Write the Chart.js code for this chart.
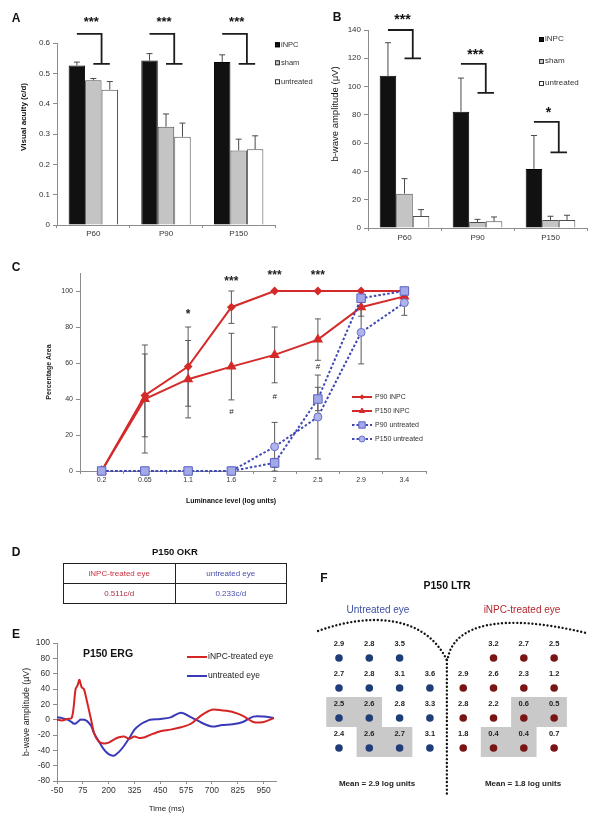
<!DOCTYPE html>
<html>
<head>
<meta charset="utf-8">
<title>iNPC figure</title>
<script src="https://cdn.jsdelivr.net/npm/chart.js@4.4.1/dist/chart.umd.min.js"></script>
<style>
html,body{margin:0;padding:0;background:#fff;}
body{position:relative;width:601px;height:826px;overflow:hidden;font-family:"Liberation Sans",Arial,Helvetica,sans-serif;color:#111;}
canvas{position:absolute;}
.t{position:absolute;white-space:nowrap;transform:translate(-50%,-50%);line-height:1;}
.r{transform:translate(-50%,-50%) rotate(-90deg);}
.pl{font-weight:bold;font-size:12px;color:#111;}
.leg{position:absolute;white-space:nowrap;line-height:1;transform:translateY(-50%);display:flex;align-items:center;color:#333;}
.sw{display:inline-block;box-sizing:border-box;margin-right:1px;}
table.okr{position:absolute;left:63px;top:563px;width:224px;height:39px;border-collapse:collapse;font-size:8px;table-layout:fixed;}
table.okr td{border:1.4px solid #222;text-align:center;padding:0;height:19px;}
</style>
</head>
<body>
<canvas id="cA" width="320" height="255" style="left:0;top:0"></canvas>
<canvas id="cB" width="301" height="255" style="left:300px;top:0"></canvas>
<canvas id="cC" width="440" height="250" style="left:0;top:262px"></canvas>
<canvas id="cE" width="300" height="198" style="left:0;top:628px"></canvas>
<canvas id="cF" width="301" height="266" style="left:300px;top:560px"></canvas>

<div class="t pl" style="left:16px;top:18px">A</div>
<div class="t pl" style="left:337px;top:17px">B</div>
<div class="t pl" style="left:16px;top:267px">C</div>
<div class="t pl" style="left:16px;top:552px">D</div>
<div class="t pl" style="left:16px;top:634px">E</div>
<div class="t pl" style="left:324px;top:578px">F</div>

<div class="t r" style="left:24px;top:117px;font-size:8px;font-weight:bold">Visual acuity (c/d)</div>
<div class="t r" style="left:335px;top:114px;font-size:9.5px">b-wave amplitude (μV)</div>
<div class="t" style="left:231px;top:500px;font-size:7px;font-weight:bold">Luminance level (log units)</div>
<div class="t" style="left:175px;top:552px;font-size:9.5px;font-weight:bold">P150 OKR</div>
<div class="t" style="left:108px;top:653px;font-size:10.5px;font-weight:bold">P150 ERG</div>
<table class="okr" id="okr"></table>

<div class="t" style="left:447px;top:585px;font-size:10.5px;font-weight:bold">P150 LTR</div>
<div class="t" style="left:378px;top:610px;font-size:10px;color:#3c50a4">Untreated eye</div>
<div class="t" style="left:522px;top:610px;font-size:10px;color:#b0282d">iNPC-treated eye</div>
<div class="t" style="left:377px;top:784px;font-size:8px;font-weight:bold;color:#222">Mean = 2.9 log units</div>
<div class="t" style="left:523px;top:784px;font-size:8px;font-weight:bold;color:#222">Mean = 1.8 log units</div>

<script>
// ===================== DATA =====================
// Panel A – visual acuity (c/d)
const timepoints = ['P60', 'P90', 'P150'];
const groups = ['iNPC', 'sham', 'untreated'];
const acuityINPC = [0.526, 0.542, 0.537];
const acuitySham = [0.477, 0.324, 0.246];
const acuityUntreated = [0.446, 0.291, 0.250];
const acuityErrINPC = [0.011, 0.023, 0.024];
const acuityErrSham = [0.006, 0.042, 0.037];
const acuityErrUntreated = [0.027, 0.045, 0.044];
const acuityTicks = [0, 0.1, 0.2, 0.3, 0.4, 0.5, 0.6];
const acuityTickLabels = ['0', '0.1', '0.2', '0.3', '0.4', '0.5', '0.6'];
const acuityStars = ['***', '***', '***'];
const acuityBracketTop = [0.63, 0.63, 0.63];
const acuityBracketBottom = [0.531, 0.531, 0.531];
const acuityStarY = [0.68, 0.68, 0.68];

// Panel B – b-wave amplitude (µV)
const ampINPC = [107.6, 82.2, 41.8];
const ampSham = [24.3, 4.2, 5.7];
const ampUntreated = [8.5, 4.7, 5.7];
const ampErrINPC = [23.4, 23.8, 23.6];
const ampErrSham = [10.6, 1.9, 2.6];
const ampErrUntreated = [4.5, 3.1, 3.3];
const ampTicks = [0, 20, 40, 60, 80, 100, 120, 140];
const ampStars = ['***', '***', '*'];
const ampBracketTop = [140, 116, 75];
const ampBracketBottom = [120, 95.5, 53.5];
const ampStarY = [150, 125.5, 84];

// Panel C – percentage area vs luminance
const luminance = ['0.2', '0.65', '1.1', '1.6', '2', '2.5', '2.9', '3.4'];
const p90INPC = [0, 42, 58, 91, 100, 100, 100, 100];
const p90INPCErr = [0, 23, 22, 9, 0, 0, 0, 0];
const p150INPC = [0, 40, 51, 58, 64.5, 73, 91, 97];
const p150INPCErr = [0, 30, 21.5, 18.5, 15.5, 11.5, 5, 0];
const p90Untreated = [0, 0, 0, 0, 4.5, 40, 96, 100];
const p90UntreatedErr = [0, 0, 0, 0, 2.5, 6.5, 2, 0];
const p150Untreated = [0, 0, 0, 0, 13.5, 30, 77, 93.5];
const p150UntreatedErr = [0, 0, 0, 0, 13.5, 23.3, 17.5, 7];
const lumTicks = [0, 20, 40, 60, 80, 100];
const lumStars = ['', '', '*', '***', '***', '***', '', ''];
const lumStarY = [0, 0, 89, 107, 110.5, 110.5, 0, 0];
const lumHash = ['', '', '', '#', '#', '#', '', ''];
const lumHashY = [0, 0, 0, 33, 41.7, 58.3, 0, 0];

// Panel D – OKR table
const okrGroups = ['iNPC-treated eye', 'untreated eye'];
const okrValues = ['0.511c/d', '0.233c/d'];

// Panel E – ERG traces
const ergTime = [-50, -25, 0, 20, 30, 40, 50, 58, 63, 70, 80, 90, 100, 115, 130, 150, 175, 200, 225, 250,
  275, 300, 325, 350, 375, 400, 450, 500, 550, 600, 650, 700, 750, 800, 850, 900, 950, 1000];
const ergTreated = [0, -1, 1, 2, 15, 40, 45, 52, 48, 42, 40, 30, 18, 0, -18, -28, -31, -30, -26, -23,
  -22, -25, -22, -24, -23, -20, -15, -13, -10, -5, 6, 13, 12, 10, 5, -3, -3, 2];
const ergUntreated = [3, 2, 0, -3, -5, -5, -3, -1, 0, 0, 0, -1, -3, -8, -18, -27, -38, -45, -47, -42,
  -34, -24, -13, -7, -3, 0, 1, 3, 9, 3, -4, -9, -7, -6, -3, 4, 4, 2];
const ergXTicks = [-50, 75, 200, 325, 450, 575, 700, 825, 950];
const ergYTicks = [-80, -60, -40, -20, 0, 20, 40, 60, 80, 100];
const ergSeries = ['iNPC-treated eye', 'untreated eye'];

// Panel F – LTR thresholds (log units), rows x columns
const ltrUntreated = [[2.9, 2.8, 3.5, null], [2.7, 2.8, 3.1, 3.6], [2.5, 2.6, 2.8, 3.3], [2.4, 2.6, 2.7, 3.1]];
const ltrTreated = [[null, 3.2, 2.7, 2.5], [2.9, 2.6, 2.3, 1.2], [2.8, 2.2, 0.6, 0.5], [1.8, 0.4, 0.4, 0.7]];
const ltrShadeUntreated = [[0, 0, 0, 0], [0, 0, 0, 0], [1, 1, 0, 0], [0, 1, 1, 0]];
const ltrShadeTreated = [[0, 0, 0, 0], [0, 0, 0, 0], [0, 0, 1, 1], [0, 1, 1, 0]];

// ===================== STYLE =====================
const FONT = '"Liberation Sans", Arial, sans-serif';
Chart.defaults.font.family = FONT;
Chart.defaults.color = '#333';
Chart.defaults.animation = false;
const AX = '#8c8c8c';
const barFill = ['#111111', '#c4c4c4', '#ffffff'];
const barBorder = ['#000000', '#4d4d4d', '#4d4d4d'];

function yScale(o) {
  return {
    type: 'linear', min: o.min, max: o.max,
    afterBuildTicks: s => { s.ticks = o.ticks.map(v => ({ value: v })); },
    afterFit: s => { s.width = o.width; },
    ticks: { font: { size: o.size }, color: '#333', padding: 3, autoSkip: false, callback: o.fmt },
    grid: { drawOnChartArea: false, drawTicks: true, tickLength: 4, color: AX },
    border: { display: true, color: AX },
    title: o.title || { display: false }
  };
}
function xCat(o) {
  return {
    type: 'category', offset: true,
    afterFit: s => { s.height = o.height; },
    ticks: { font: { size: o.size }, color: '#333', padding: o.pad, autoSkip: false, maxRotation: 0 },
    grid: { offset: true, drawOnChartArea: false, drawTicks: true, tickLength: 3, color: AX },
    border: { display: true, color: AX },
    title: o.title || { display: false }
  };
}

function barAnnotations(errs, tops, bottoms, starYs, stars, starSize) {
  return {
    id: 'barAnn',
    afterDatasetsDraw(chart) {
      const ctx = chart.ctx, ys = chart.scales.y;
      ctx.save();
      ctx.strokeStyle = '#4a4a4a'; ctx.lineWidth = 1;
      chart.data.datasets.forEach((ds, i) => {
        chart.getDatasetMeta(i).data.forEach((bar, j) => {
          const yTop = ys.getPixelForValue(ds.data[j] + errs[i][j]);
          ctx.beginPath();
          ctx.moveTo(bar.x, bar.y); ctx.lineTo(bar.x, yTop);
          ctx.moveTo(bar.x - 3, yTop); ctx.lineTo(bar.x + 3, yTop);
          ctx.stroke();
        });
      });
      ctx.restore();
    },
    afterDraw(chart) {
      const ctx = chart.ctx, xs = chart.scales.x, ys = chart.scales.y;
      const w = chart.getDatasetMeta(0).data[0].width;
      ctx.save();
      ctx.strokeStyle = '#1c1c1c'; ctx.lineWidth = 1.8; ctx.fillStyle = '#111';
      ctx.font = 'bold ' + starSize + 'px ' + FONT; ctx.textAlign = 'center'; ctx.textBaseline = 'alphabetic';
      stars.forEach((s, i) => {
        const cx = xs.getPixelForValue(i);
        const yt = ys.getPixelForValue(tops[i]), yb = ys.getPixelForValue(bottoms[i]);
        ctx.beginPath();
        ctx.moveTo(cx - w, yt); ctx.lineTo(cx + w / 2, yt); ctx.lineTo(cx + w / 2, yb);
        ctx.moveTo(cx, yb); ctx.lineTo(cx + w, yb);
        ctx.stroke();
        ctx.fillText(s, cx - 2, ys.getPixelForValue(starYs[i]) + starSize * 0.575);
      });
      ctx.restore();
    }
  };
}

function barDatasets(vals) {
  return vals.map((v, i) => ({
    label: groups[i], data: v, backgroundColor: barFill[i], borderColor: barBorder[i], borderWidth: 1
  }));
}

function htmlLegend(x, ys, size, sq) {
  groups.forEach((g, i) => {
    const d = document.createElement('div');
    d.className = 'leg';
    d.style.left = x + 'px'; d.style.top = ys[i] + 'px'; d.style.fontSize = size + 'px';
    d.innerHTML = '<span class="sw" style="width:' + sq + 'px;height:' + sq + 'px;background:' + barFill[i] +
      ';border:1px solid ' + (i === 0 ? '#000' : '#333') + '"></span>' + g;
    document.body.appendChild(d);
  });
}

// ===================== PANEL A =====================
new Chart(document.getElementById('cA'), {
  type: 'bar',
  data: { labels: timepoints, datasets: barDatasets([acuityINPC, acuitySham, acuityUntreated]) },
  options: {
    responsive: false, animation: false,
    layout: { padding: { top: 43, right: 45, left: 0, bottom: 0 } },
    plugins: { legend: { display: false }, tooltip: { enabled: false } },
    datasets: { bar: { categoryPercentage: 0.68, barPercentage: 1 } },
    scales: {
      x: xCat({ height: 30, size: 8, pad: 1 }),
      y: yScale({ min: 0, max: 0.6, ticks: acuityTicks, width: 57, size: 8, fmt: (v, i) => acuityTickLabels[i] })
    }
  },
  plugins: [barAnnotations([acuityErrINPC, acuityErrSham, acuityErrUntreated],
    acuityBracketTop, acuityBracketBottom, acuityStarY, acuityStars, 13)]
});
htmlLegend(275, [45, 63, 82], 7.5, 5);

// ===================== PANEL B =====================
new Chart(document.getElementById('cB'), {
  type: 'bar',
  data: { labels: timepoints, datasets: barDatasets([ampINPC, ampSham, ampUntreated]) },
  options: {
    responsive: false, animation: false,
    layout: { padding: { top: 30, right: 14, left: 0, bottom: 0 } },
    plugins: { legend: { display: false }, tooltip: { enabled: false } },
    datasets: { bar: { categoryPercentage: 0.68, barPercentage: 1 } },
    scales: {
      x: xCat({ height: 27, size: 8, pad: 2 }),
      y: yScale({ min: 0, max: 140, ticks: ampTicks, width: 68, size: 8, fmt: v => String(v) })
    }
  },
  plugins: [barAnnotations([ampErrINPC, ampErrSham, ampErrUntreated],
    ampBracketTop, ampBracketBottom, ampStarY, ampStars, 14)]
});
htmlLegend(539, [39, 61, 83], 8, 5);

// ===================== PANEL C =====================
const redC = '#d42a2a', blueC = '#4149b4';
const lumErrs = [p90INPCErr, p150INPCErr, p90UntreatedErr, p150UntreatedErr];
const lumPlugin = {
  id: 'lum',
  beforeDatasetsDraw(chart) {
    const ctx = chart.ctx, ys = chart.scales.y;
    ctx.save(); ctx.strokeStyle = '#5a5a5a'; ctx.lineWidth = 1;
    lumErrs.forEach((errArr, i) => {
      const meta = chart.getDatasetMeta(i);
      const vals = chart.data.datasets[i].data;
      errArr.forEach((e, j) => {
        if (!e) return;
        const x = meta.data[j].x;
        const y0 = ys.getPixelForValue(vals[j] - e), y1 = ys.getPixelForValue(vals[j] + e);
        ctx.beginPath();
        ctx.moveTo(x, y0); ctx.lineTo(x, y1);
        ctx.moveTo(x - 3, y0); ctx.lineTo(x + 3, y0);
        ctx.moveTo(x - 3, y1); ctx.lineTo(x + 3, y1);
        ctx.stroke();
      });
    });
    ctx.restore();
  },
  afterDraw(chart) {
    const ctx = chart.ctx, xs = chart.scales.x, ys = chart.scales.y;
    ctx.save();
    ctx.textAlign = 'center'; ctx.textBaseline = 'alphabetic'; ctx.fillStyle = '#222';
    lumStars.forEach((s, i) => {
      if (!s) return;
      ctx.font = 'bold 12px ' + FONT;
      ctx.fillText(s, xs.getPixelForValue(i), ys.getPixelForValue(lumStarY[i]) + 12 * 0.575);
    });
    lumHash.forEach((s, i) => {
      if (!s) return;
      ctx.font = '8px ' + FONT;
      ctx.fillText(s, xs.getPixelForValue(i), ys.getPixelForValue(lumHashY[i]) + 8 * 0.36);
    });
    // legend
    chart.data.datasets.forEach((ds, i) => {
      const yy = 135 + i * 14;
      ctx.strokeStyle = ds.borderColor; ctx.lineWidth = 2; ctx.setLineDash(ds.borderDash || []);
      ctx.beginPath(); ctx.moveTo(352, yy); ctx.lineTo(372, yy); ctx.stroke();
      ctx.setLineDash([]);
      ctx.fillStyle = ds.pointBackgroundColor || ds.backgroundColor;
      ctx.strokeStyle = ds.pointBorderColor || ds.borderColor; ctx.lineWidth = 1;
      const r = ds.pointRadius * 0.75;
      if (Chart.helpers && Chart.helpers.drawPoint) {
        Chart.helpers.drawPoint(ctx, { pointStyle: ds.pointStyle, radius: r, rotation: 0, borderWidth: 1 }, 362, yy);
      } else {
        ctx.beginPath(); ctx.arc(362, yy, r, 0, Math.PI * 2); ctx.fill(); ctx.stroke();
      }
      ctx.fillStyle = '#333'; ctx.font = '7px ' + FONT; ctx.textAlign = 'left'; ctx.textBaseline = 'middle';
      ctx.fillText(ds.label, 375, yy);
    });
    ctx.restore();
  }
};
new Chart(document.getElementById('cC'), {
  type: 'line',
  data: {
    labels: luminance,
    datasets: [
      { label: 'P90 iNPC', data: p90INPC, borderColor: redC, backgroundColor: redC, borderWidth: 2,
        pointStyle: 'rectRot', pointRadius: 3, order: 2, clip: false },
      { label: 'P150 iNPC', data: p150INPC, borderColor: redC, backgroundColor: redC, borderWidth: 2,
        pointStyle: 'triangle', pointRadius: 4, order: 2, clip: false },
      { label: 'P90 untreated', data: p90Untreated, borderColor: blueC, backgroundColor: '#a3a8e6', borderDash: [2.5, 2],
        borderWidth: 2, pointStyle: 'rect', pointRadius: 6, pointBackgroundColor: '#a3a8e6',
        pointBorderColor: '#5a62c4', pointBorderWidth: 1, order: 1, clip: false },
      { label: 'P150 untreated', data: p150Untreated, borderColor: blueC, backgroundColor: '#b0b4ec', borderDash: [2.5, 2],
        borderWidth: 2, pointStyle: 'circle', pointRadius: 4, pointBackgroundColor: '#b0b4ec',
        pointBorderColor: '#6a70c8', pointBorderWidth: 1, order: 1, clip: false }
    ]
  },
  options: {
    responsive: false, animation: false,
    layout: { padding: { top: 11, right: 14, left: 0, bottom: 0 } },
    plugins: { legend: { display: false }, tooltip: { enabled: false } },
    scales: {
      x: xCat({ height: 41, size: 7, pad: 2 }),
      y: yScale({ min: 0, max: 110, ticks: lumTicks, width: 80, size: 7, fmt: v => String(v),
        title: { display: true, text: 'Percentage Area', font: { size: 7, weight: 'bold' }, color: '#222', padding: { top: 45, bottom: 0 } } })
    }
  },
  plugins: [lumPlugin]
});

// ===================== PANEL D =====================
const okrColors = ['#c9303f', '#4a4fae'];
const okrValColors = ['#a8324a', '#4a4fae'];
document.getElementById('okr').innerHTML =
  '<tr>' + okrGroups.map((g, i) => '<td style="color:' + okrColors[i] + '">' + g + '</td>').join('') + '</tr>' +
  '<tr>' + okrValues.map((v, i) => '<td style="color:' + okrValColors[i] + '">' + v + '</td>').join('') + '</tr>';

// ===================== PANEL E =====================
const redE = '#d42424', blueE = '#3a3ab8';
const ergLegend = {
  id: 'ergLegend',
  afterDraw(chart) {
    const ctx = chart.ctx;
    ctx.save();
    chart.data.datasets.forEach((ds, i) => {
      const yy = 29 + i * 19;
      ctx.strokeStyle = ds.borderColor; ctx.lineWidth = 2;
      ctx.beginPath(); ctx.moveTo(187, yy); ctx.lineTo(207, yy); ctx.stroke();
      ctx.fillStyle = '#222'; ctx.font = '8.5px ' + FONT; ctx.textAlign = 'left'; ctx.textBaseline = 'middle';
      ctx.fillText(ds.label, 208, yy);
    });
    ctx.restore();
  }
};
new Chart(document.getElementById('cE'), {
  type: 'line',
  data: {
    datasets: [
      { label: ergSeries[0], data: ergTime.map((t, i) => ({ x: t, y: ergTreated[i] })), borderColor: redE,
        borderWidth: 2, pointRadius: 0, tension: 0.3 },
      { label: ergSeries[1], data: ergTime.map((t, i) => ({ x: t, y: ergUntreated[i] })), borderColor: blueE,
        borderWidth: 2, pointRadius: 0, tension: 0.3 }
    ]
  },
  options: {
    responsive: false, animation: false,
    layout: { padding: { top: 15, right: 24, left: 0, bottom: 0 } },
    plugins: { legend: { display: false }, tooltip: { enabled: false } },
    scales: {
      x: {
        type: 'linear', min: -50, max: 1010,
        afterBuildTicks: s => { s.ticks = ergXTicks.map(v => ({ value: v })); },
        afterFit: s => { s.height = 45; },
        ticks: { font: { size: 8.5 }, color: '#333', padding: 2, autoSkip: false, maxRotation: 0, callback: v => String(v) },
        grid: { drawOnChartArea: false, drawTicks: true, tickLength: 3, color: AX },
        border: { display: true, color: AX },
        title: { display: true, text: 'Time (ms)', font: { size: 8 }, color: '#222', padding: { top: 0, bottom: 12 } }
      },
      y: yScale({ min: -80, max: 100, ticks: ergYTicks, width: 57, size: 8.5, fmt: v => String(v),
        title: { display: true, text: 'b-wave amplitude (μV)', font: { size: 8.8 }, color: '#222', padding: { top: 21.7, bottom: 0 } } })
    }
  },
  plugins: [ergLegend]
});

// ===================== PANEL F =====================
const rightEyeOffset = 4.1;
function gridPoints(grid, offset) {
  const pts = [];
  grid.forEach((row, r) => row.forEach((v, c) => { if (v !== null) pts.push({ x: c + offset, y: r, v: v }); }));
  return pts;
}
const arcLeft = [[-0.69, -0.9], [1.02, -1.53], [2.84, -1.43], [3.56, 0.07]];
const arcRight = [[3.60, -0.03], [3.83, -1.1], [5.31, -1.53], [8.18, -0.83]];
const midLine = [[3.56, 0.07], [3.56, 4.57]];
const ltrPlugin = {
  id: 'ltr',
  beforeDatasetsDraw(chart) {
    const ctx = chart.ctx, xs = chart.scales.x, ys = chart.scales.y;
    ctx.save(); ctx.fillStyle = '#c9c9c9';
    [[ltrShadeUntreated, 0], [ltrShadeTreated, rightEyeOffset]].forEach(([grid, off]) => {
      grid.forEach((row, r) => {
        let c = 0;
        while (c < row.length) {
          if (row[c]) {
            let e = c;
            while (e + 1 < row.length && row[e + 1]) e++;
            const x0 = xs.getPixelForValue(c + off - 0.42), x1 = xs.getPixelForValue(e + off + 0.42);
            const y0 = ys.getPixelForValue(r - 0.7), y1 = ys.getPixelForValue(r + 0.3);
            ctx.fillRect(x0, y0, x1 - x0, y1 - y0);
            c = e + 1;
          } else c++;
        }
      });
    });
    ctx.restore();
  },
  afterDatasetsDraw(chart) {
    const ctx = chart.ctx, xs = chart.scales.x, ys = chart.scales.y;
    ctx.save();
    ctx.fillStyle = '#222'; ctx.font = 'bold 7.5px ' + FONT; ctx.textAlign = 'center'; ctx.textBaseline = 'middle';
    chart.data.datasets.forEach((ds, i) => {
      chart.getDatasetMeta(i).data.forEach((pt, k) => {
        ctx.fillText(ds.data[k].v.toFixed(1), pt.x, pt.y - 14);
      });
    });
    const P = p => [xs.getPixelForValue(p[0]), ys.getPixelForValue(p[1])];
    ctx.strokeStyle = '#151515'; ctx.lineWidth = 2.4; ctx.lineCap = 'round'; ctx.setLineDash([0.01, 3.8]);
    [arcLeft, arcRight].forEach(a => {
      const p = a.map(P);
      ctx.beginPath(); ctx.moveTo(p[0][0], p[0][1]);
      ctx.bezierCurveTo(p[1][0], p[1][1], p[2][0], p[2][1], p[3][0], p[3][1]);
      ctx.stroke();
    });
    const m = midLine.map(P);
    ctx.beginPath(); ctx.moveTo(m[0][0], m[0][1]); ctx.lineTo(m[1][0], m[1][1]); ctx.stroke();
    ctx.restore();
  }
};
new Chart(document.getElementById('cF'), {
  type: 'scatter',
  data: {
    datasets: [
      { label: 'Untreated eye', data: gridPoints(ltrUntreated, 0), backgroundColor: '#1f3d78', borderWidth: 0, pointRadius: 3.8 },
      { label: 'iNPC-treated eye', data: gridPoints(ltrTreated, rightEyeOffset), backgroundColor: '#7a1515', borderWidth: 0, pointRadius: 3.8 }
    ]
  },
  options: {
    responsive: false, animation: false,
    layout: { padding: { left: 8.7, right: 19.6, top: 8, bottom: 18 } },
    plugins: { legend: { display: false }, tooltip: { enabled: false } },
    scales: {
      x: { type: 'linear', min: -1, max: 8, display: false },
      y: { type: 'linear', min: -3, max: 5, reverse: true, display: false }
    }
  },
  plugins: [ltrPlugin]
});
</script>
</body>
</html>
